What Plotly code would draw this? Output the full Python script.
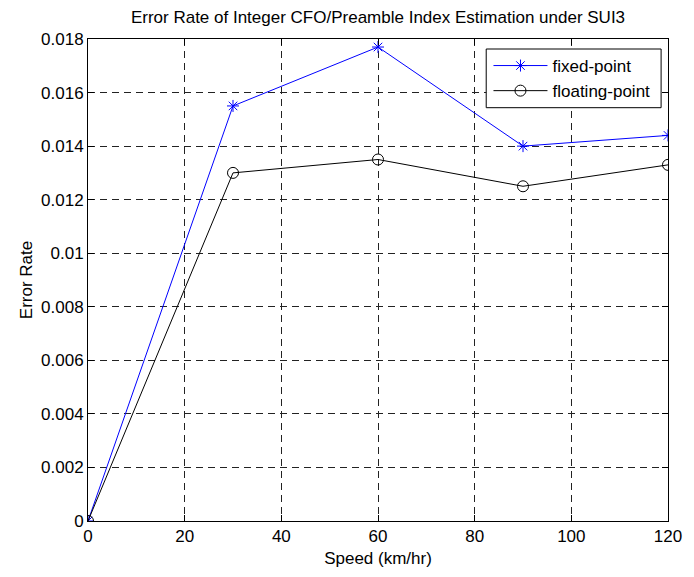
import plotly.graph_objects as go

speed = [0, 30, 60, 90, 120]
fixed_point = [0.0, 0.0155, 0.0177, 0.0140, 0.0144]
floating_point = [0.0, 0.0130, 0.0135, 0.0125, 0.0133]

x_ticks = [0, 20, 40, 60, 80, 100, 120]
y_ticks = [0, 0.002, 0.004, 0.006, 0.008, 0.01, 0.012, 0.014, 0.016, 0.018]
y_tick_text = ["0", "0.002", "0.004", "0.006", "0.008", "0.01", "0.012", "0.014", "0.016", "0.018"]

FONT = "Liberation Sans, Arial, Helvetica, sans-serif"
W, H = 694, 577
L, R, T, B = 88, 18, 39, 56
PW, PH = W - L - R, H - T - B


def px_x(px):
    return (px - L) / PW


def px_y(py):
    return (H - B - py) / PH


fig = go.Figure()
fig.add_trace(go.Scatter(
    x=speed, y=fixed_point, name="fixed-point", mode="lines+markers",
    line=dict(color="#0000ff", width=1),
    marker=dict(symbol="asterisk-open", size=10, color="#0000ff", line=dict(color="#0000ff", width=1)),
))
fig.add_trace(go.Scatter(
    x=speed, y=floating_point, name="floating-point", mode="lines+markers",
    line=dict(color="#000000", width=1),
    marker=dict(symbol="circle-open", size=11, color="#000000", line=dict(color="#000000", width=1)),
))

axis_common = dict(
    showline=True, linecolor="black", linewidth=1, mirror="ticks",
    ticks="inside", ticklen=6, tickcolor="black", tickwidth=1,
    showgrid=True, gridcolor="#222222", gridwidth=1, griddash="7px,5px",
    zeroline=False, tickfont=dict(family=FONT, size=17, color="black"),
)

fig.update_layout(
    width=W, height=H,
    margin=dict(l=L, r=R, t=T, b=B),
    paper_bgcolor="white", plot_bgcolor="white",
    font=dict(family=FONT, size=17, color="black"),
    title=dict(text="Error Rate of Integer CFO/Preamble Index Estimation under SUI3",
               x=0.5, xref="paper", xanchor="center",
               y=1 - 17 / H, yref="container", yanchor="middle",
               font=dict(family=FONT, size=17, color="black")),
    xaxis=dict(range=[0, 120], tickvals=x_ticks,
               title=dict(text="Speed (km/hr)", font=dict(family=FONT, size=17), standoff=6),
               **axis_common),
    yaxis=dict(range=[0, 0.018], tickvals=y_ticks, ticktext=y_tick_text,
               title=dict(text="Error Rate", font=dict(family=FONT, size=17), standoff=4),
               **axis_common),
    legend=dict(x=px_x(494), y=px_y(48), xanchor="left", yanchor="top",
                bgcolor="rgba(0,0,0,0)", borderwidth=0,
                font=dict(family=FONT, size=17, color="black"),
                tracegroupgap=0, itemwidth=54),
    showlegend=True,
    shapes=[dict(type="rect", xref="paper", yref="paper",
                 x0=px_x(491.7), x1=px_x(669), y0=px_y(107.7), y1=px_y(49),
                 line=dict(color="black", width=1), fillcolor="white", layer="above")],
)

fig.write_html("out.html")
